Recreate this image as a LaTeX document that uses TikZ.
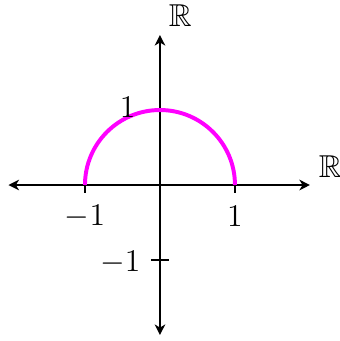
\documentclass[tikz,border=0pt]{standalone}
\usepackage{amssymb}
\usetikzlibrary{arrows.meta}
\definecolor{arcmag}{RGB}{255,0,255}
\begin{document}
\begin{tikzpicture}[x=1cm,y=1cm,
  axis/.style={line width=0.7pt,-{Stealth[length=4pt,width=4pt,inset=1.2pt]}},
  tick/.style={line width=0.7pt},
  lbl/.style={font=\fontsize{12}{14}\selectfont, inner sep=0pt}]
\useasboundingbox (-2.133,-2.08) rectangle (2.4,2.467);
\coordinate (O) at (0,0);
\coordinate (L) at (-2.02,0);
\coordinate (R) at (2.0,0);
\coordinate (T) at (0,2.0);
\coordinate (B) at (0,-2.0);
\draw[axis] (O) -- (R);
\draw[axis] (O) -- (L);
\draw[axis] (O) -- (T);
\draw[axis] (O) -- (B);
\coordinate (xm1a) at (-1,0.1); \coordinate (xm1b) at (-1,-0.1);
\coordinate (xp1a) at (1,0.1); \coordinate (xp1b) at (1,-0.1);
\coordinate (ym1a) at (-0.12,-1); \coordinate (ym1b) at (0.12,-1);
\draw[tick] (xm1a) -- (xm1b);
\draw[tick] (xp1a) -- (xp1b);
\draw[tick] (ym1a) -- (ym1b);
\draw[arcmag, line width=1.5pt] (1,0) arc[start angle=0,end angle=180,radius=1];
\node[lbl] (rx) at (2.27,0.25) {$\mathbb{R}$};
\node[lbl] (ry) at (0.27,2.26) {$\mathbb{R}$};
\node[lbl] (xm1) at (-1,-0.42) {$-1$};
\node[lbl] (xp1) at (1,-0.42) {$1$};
\node[lbl] (yp1) at (-0.43,1.03) {$1$};
\node[lbl] (ym1) at (-0.53,-1.03) {$-1$};
\end{tikzpicture}
\end{document}
